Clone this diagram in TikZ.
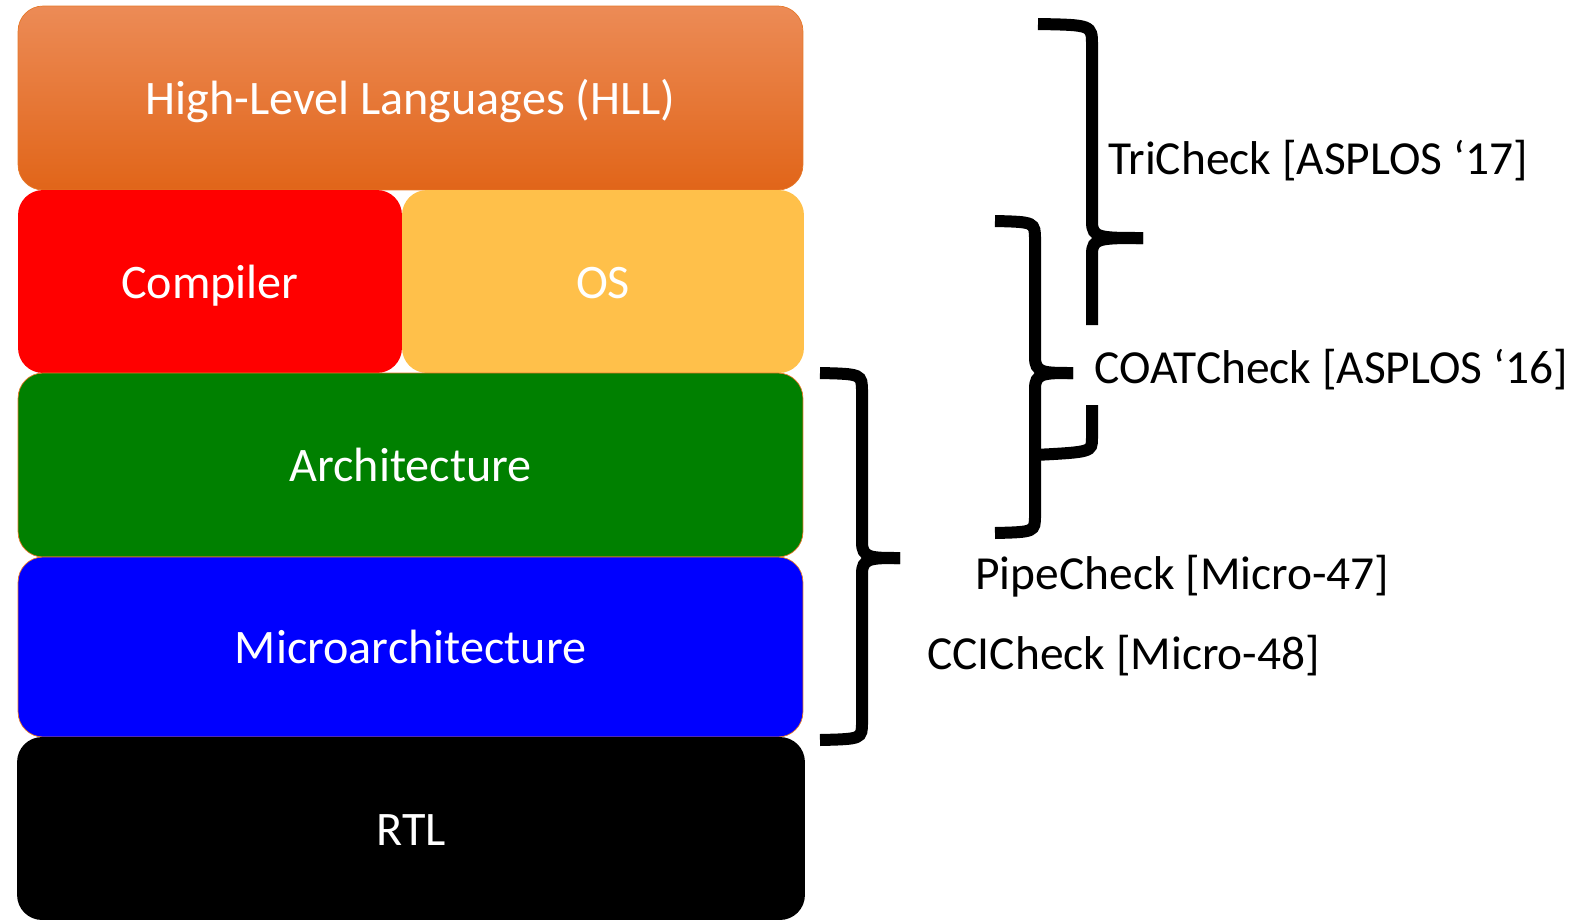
\documentclass[tikz,border=0pt]{standalone}
\usepackage{fontspec}
\setmainfont{Carlito}
\usepackage{tikz}
\definecolor{hll_top}{RGB}{236, 139, 86}
\definecolor{hll_mid}{RGB}{240, 120, 40}
\definecolor{hll_bot}{RGB}{225, 101, 25}
\definecolor{os_yellow}{RGB}{255, 192, 74}
\definecolor{arch_green}{RGB}{0, 128, 0}
\definecolor{edge_orange}{RGB}{230, 120, 40}
\tikzstyle{lay}=[rectangle,rounded corners=0.5cm,inner sep=0pt,text=white,
  font=\fontsize{27.4}{31}\selectfont,text height=23.3pt,text depth=4.1pt]
\tikzstyle{br}=[line width=0.24cm,black]
\tikzstyle{refl}=[anchor=west,inner sep=0pt,text=black,
  font=\fontsize{27}{31}\selectfont,text height=23pt,text depth=4pt]

\begin{document}
\begin{tikzpicture}[x=0.02cm,y=-0.02cm]
    \useasboundingbox (0,0) rectangle (1569,923);
    % stack of layers
    \node [style=lay,top color=hll_top,middle color=hll_mid,bottom color=hll_bot,
      draw=edge_orange,line width=0.4pt,minimum width=15.7cm,minimum height=3.68cm]
      (hll) at (410.5,98) {High-Level Languages (HLL)};
    \node [style=lay,fill=red,minimum width=7.68cm,minimum height=3.66cm]
      (comp) at (210,281.5) {Compiler};
    \node [style=lay,fill=os_yellow,minimum width=8.04cm,minimum height=3.66cm]
      (os) at (603,281.5) {OS};
    \node [style=lay,fill=arch_green,draw=edge_orange,line width=0.4pt,
      minimum width=15.7cm,minimum height=3.68cm]
      (arch) at (410.5,465) {Architecture};
    \node [style=lay,fill=blue,draw=edge_orange,line width=0.4pt,
      minimum width=15.7cm,minimum height=3.6cm]
      (uarch) at (410.5,647) {Microarchitecture};
    \node [style=lay,fill=black,minimum width=15.76cm,minimum height=3.66cm]
      (rtl) at (411,828.5) {RTL};
    % braces
    \draw [style=br] (1038,24) .. controls (1092,25) .. (1092,45) -- (1092,222)
      .. controls (1092,238) and (1100,238) .. (1143,238);
    \draw [style=br] (1143,238) .. controls (1100,238) and (1092,238) .. (1092,254)
      -- (1092,325);
    \draw [style=br] (1092,405) -- (1092,438) .. controls (1092,452) .. (1035,455);
    \draw [style=br] (995,221) .. controls (1035,222) .. (1035,240) -- (1035,357)
      .. controls (1035,373) and (1043,373) .. (1073,373);
    \draw [style=br] (1073,373) .. controls (1043,373) and (1035,373) .. (1035,389)
      -- (1035,515) .. controls (1035,532) .. (995,533);
    \draw [style=br] (820,373) .. controls (862,374) .. (862,392) -- (862,542)
      .. controls (862,558) and (870,558) .. (900,558);
    \draw [style=br] (900,558) .. controls (870,558) and (862,558) .. (862,574)
      -- (862,722) .. controls (862,739) .. (820,740);
    % checkers
    \node [style=refl] (tri) at (1108,158) {TriCheck [ASPLOS ‘17]};
    \node [style=refl] (coat) at (1094,367) {COATCheck [ASPLOS ‘16]};
    \node [style=refl] (pipe) at (975,573) {PipeCheck [Micro-47]};
    \node [style=refl] (cci) at (927,653) {CCICheck [Micro-48]};
  \end{tikzpicture}
\end{document}
